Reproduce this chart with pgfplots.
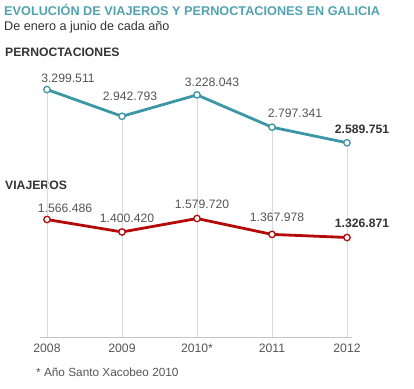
\documentclass[border=0pt]{standalone}
\usepackage{pgfplots}
\pgfplotsset{compat=1.18}
\usepackage{fontspec}
\setmainfont{Liberation Sans}
\definecolor{teal1}{HTML}{3C96A5}
\definecolor{tealtitle}{HTML}{52A2B0}
\definecolor{red1}{HTML}{B40A0A}
\definecolor{txt}{HTML}{333333}
\definecolor{lbl}{HTML}{555555}
\definecolor{grid1}{HTML}{DADADA}
\definecolor{axisc}{HTML}{C4C4C4}
\pgfplotstableread{
x y
0 3299511
1 2942793
2 3228043
3 2797341
4 2589751
}\pernoct
\pgfplotstableread{
x y
0 1566486
1 1400420
2 1579720
3 1367978
4 1326871
}\viaj
\begin{document}
\begin{tikzpicture}[x=1pt,y=1pt]
\path (0,0) rectangle (414,388);
\node[anchor=base west,inner sep=0,text=tealtitle,font=\fontsize{12.7}{15}\selectfont\bfseries] at (4,372) {EVOLUCIÓN DE VIAJEROS Y PERNOCTACIONES EN GALICIA};
\node[anchor=base west,inner sep=0,text=txt,font=\fontsize{12.6}{15}\selectfont] at (4,357) {De enero a junio de cada año};
\node[anchor=base west,inner sep=0,text=txt,font=\fontsize{12.2}{15}\selectfont\bfseries] at (5,331) {PERNOCTACIONES};
\node[anchor=base west,inner sep=0,text=txt,font=\fontsize{12.2}{15}\selectfont\bfseries] at (5,198) {VIAJEROS};
\node[anchor=base west,inner sep=0,text=lbl,font=\fontsize{11.8}{14}\selectfont] at (36,12) {* Año Santo Xacobeo 2010};
\begin{axis}[
  at={(40pt,51pt)}, anchor=south west,
  scale only axis, width=312pt, height=277pt,
  xmin=-0.0933, xmax=4.0667, ymin=0, ymax=3693333,
  clip=false,
  axis x line=bottom, axis y line=none,
  x axis line style={-, draw=axisc, line width=0.9pt},
  xtick={0,1,2,3,4}, xticklabels={2008,2009,2010*,2011,2012},
  major tick length=0pt,
  xticklabel style={anchor=base, yshift=-15pt, inner sep=0pt, text=lbl, font=\fontsize{12.2}{14}\selectfont},
  ytick=\empty,
]
\addplot[ycomb, draw=grid1, line width=0.8pt, mark=none] table[x=x,y=y] {\pernoct};
\addplot[teal1, line width=2.8pt, mark=*, mark size=3.2pt, mark options={fill=white, draw=teal1, line width=1.3pt}] table[x=x,y=y] {\pernoct};
\addplot[red1, line width=2.8pt, mark=*, mark size=3.2pt, mark options={fill=white, draw=red1, line width=1.3pt}] table[x=x,y=y] {\viaj};
\tikzset{dl/.style={anchor=base, inner sep=0pt, text=lbl, font=\fontsize{12.2}{14}\selectfont}, dlb/.style={anchor=base, inner sep=0pt, text=txt, font=\fontsize{12.2}{14}\selectfont\bfseries}}
\node[dl, xshift=21pt, yshift=7pt] at (axis cs:0,3299511) {3.299.511};
\node[dl, xshift=8pt, yshift=16pt] at (axis cs:1,2942793) {2.942.793};
\node[dl, xshift=15pt, yshift=8pt] at (axis cs:2,3228043) {3.228.043};
\node[dl, xshift=23pt, yshift=10pt] at (axis cs:3,2797341) {2.797.341};
\node[dlb, xshift=15pt, yshift=9pt] at (axis cs:4,2589751) {2.589.751};
\node[dl, xshift=18pt, yshift=7pt] at (axis cs:0,1566486) {1.566.486};
\node[dl, xshift=5pt, yshift=9pt] at (axis cs:1,1400420) {1.400.420};
\node[dl, xshift=5pt, yshift=10pt] at (axis cs:2,1579720) {1.579.720};
\node[dl, xshift=5pt, yshift=13pt] at (axis cs:3,1367978) {1.367.978};
\node[dlb, xshift=15pt, yshift=10pt] at (axis cs:4,1326871) {1.326.871};
\end{axis}
\end{tikzpicture}
\end{document}
